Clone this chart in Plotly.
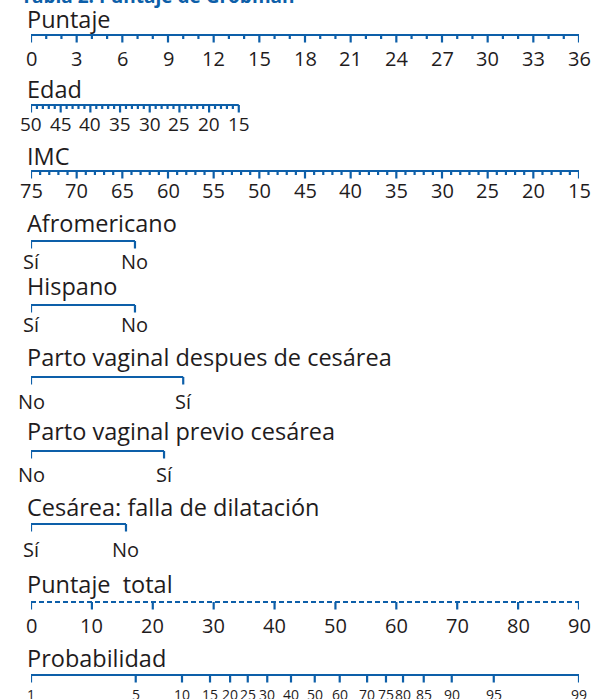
import plotly.graph_objects as go

# ---------------- data ----------------
puntaje_major = list(range(0, 37, 3))
puntaje_minor = list(range(0, 37, 1))

edad_major = [50, 45, 40, 35, 30, 25, 20, 15]
edad_minor = list(range(50, 14, -1))
edad_pts_max = 13.65          # points given at age 15 (0 at age 50)

imc_major = [75, 70, 65, 60, 55, 50, 45, 40, 35, 30, 25, 20, 15]
imc_minor = list(range(75, 14, -1))
imc_pts_max = 36.0            # points given at IMC 15 (0 at IMC 75)

afro_labels = ["Sí", "No"]
afro_points = [0, 6.83]
hisp_labels = ["Sí", "No"]
hisp_points = [0, 6.83]
vbac_labels = ["No", "Sí"]
vbac_points = [0, 10.0]
prev_labels = ["No", "Sí"]
prev_points = [0, 8.74]
arrest_labels = ["Sí", "No"]
arrest_points = [0, 6.24]

total_ticks = list(range(0, 91, 10))

prob_labels = ["1", "5", "10", "15", "20", "25", "30", "40", "50", "60",
               "70", "75", "80", "85", "90", "95", "99"]
prob_total = [0, 17.2, 24.8, 29.4, 32.7, 35.6, 38.8, 42.7, 46.6, 50.7,
              55.2, 58.3, 61.1, 64.5, 69.1, 76.0, 90]

# ---------------- style ----------------
BLUE = "#0d5fa9"
TXT = "#1f1c1d"
FONT = "Open Sans"
LW = 2.2
MAJ = 7.5
MIN = 4.0

fig = go.Figure()
ann = []


def seg_trace(xs_pairs, ys_pairs, dash="solid"):
    xs, ys = [], []
    for (x0, x1), (y0, y1) in zip(xs_pairs, ys_pairs):
        xs += [x0, x1, None]
        ys += [y0, y1, None]
    fig.add_trace(go.Scatter(x=xs, y=ys, mode="lines", hoverinfo="skip",
                             line=dict(color=BLUE, width=LW, dash=dash),
                             showlegend=False, cliponaxis=False))


def title(text, y):
    ann.append(dict(x=0, y=y, xref="x", yref="y", text=text, showarrow=False,
                    xanchor="left", yanchor="middle", xshift=-6,
                    font=dict(family=FONT, size=23.5, color=TXT)))


def label(text, x, y, size=20):
    ann.append(dict(x=x, y=y, xref="x", yref="y", text=text, showarrow=False,
                    xanchor="center", yanchor="middle",
                    font=dict(family=FONT, size=size, color=TXT)))


def cont_axis(major_pos, major_lab, minor_pos, y_line, y_lab, size=20, dash="solid"):
    lo, hi = min(major_pos), max(major_pos)
    seg_trace([(lo, hi)], [(y_line, y_line)], dash=dash)
    seg_trace([(p, p) for p in major_pos], [(y_line, y_line + MAJ)] * len(major_pos))
    mins = [p for p in minor_pos if all(abs(p - q) > 1e-6 for q in major_pos)]
    if mins:
        seg_trace([(p, p) for p in mins], [(y_line, y_line + MIN)] * len(mins))
    for p, t in zip(major_pos, major_lab):
        label(t, p, y_lab, size)


# Title (clipped at top in reference)
ann.append(dict(x=0, y=1, xref="paper", yref="paper", text="<b>Tabla 2. Puntaje de Grobman</b>",
                showarrow=False, xanchor="left", yanchor="middle", xshift=-12, yshift=4,
                font=dict(family=FONT, size=19, color=BLUE)))

# Puntaje
title("Puntaje", 19)
cont_axis(puntaje_major, [str(v) for v in puntaje_major], puntaje_minor, 35, 58)

# Edad
edad_pos = lambda a: (50 - a) * edad_pts_max / 35
title("Edad", 89)
cont_axis([edad_pos(a) for a in edad_major], [str(a) for a in edad_major],
          [edad_pos(a) for a in edad_minor], 105, 124, size=19)

# IMC
imc_pos = lambda v: (75 - v) * imc_pts_max / 60
title("IMC", 156)
cont_axis([imc_pos(v) for v in imc_major], [str(v) for v in imc_major],
          [imc_pos(v) for v in imc_minor], 171, 190)


def bin_axis(name, labels, pts, y_title, y_line, y_lab):
    title(name, y_title)
    seg_trace([(pts[0], pts[1])], [(y_line, y_line)])
    seg_trace([(p, p) for p in pts], [(y_line, y_line + MAJ)] * 2)
    for p, t in zip(pts, labels):
        label(t, p, y_lab)


bin_axis("Afromericano", afro_labels, afro_points, 223, 241, 261)
bin_axis("Hispano", hisp_labels, hisp_points, 286, 305, 324)
bin_axis("Parto vaginal despues de cesárea", vbac_labels, vbac_points, 357, 377, 401)
bin_axis("Parto vaginal previo cesárea", prev_labels, prev_points, 431, 451, 474)
bin_axis("Cesárea: falla de dilatación", arrest_labels, arrest_points, 507, 524, 549)

# Puntaje total
title("Puntaje  total", 584)
cont_axis([t * 0.4 for t in total_ticks], [str(t) for t in total_ticks], [],
          602, 625, dash="5px,3px")

# Probabilidad
title("Probabilidad", 658)
cont_axis([t * 0.4 for t in prob_total], prob_labels, [], 675, 694, size=14)

fig.update_layout(
    width=598, height=699,
    margin=dict(l=31, r=19, t=0, b=0, pad=0),
    paper_bgcolor="white", plot_bgcolor="white",
    xaxis=dict(range=[0, 36], visible=False, fixedrange=True),
    yaxis=dict(range=[699, 0], visible=False, fixedrange=True),
    annotations=ann,
    showlegend=False,
)

fig.write_html("out.html", config={"displayModeBar": False},
               post_script="document.body.style.margin='0';document.body.style.overflow='hidden';")
